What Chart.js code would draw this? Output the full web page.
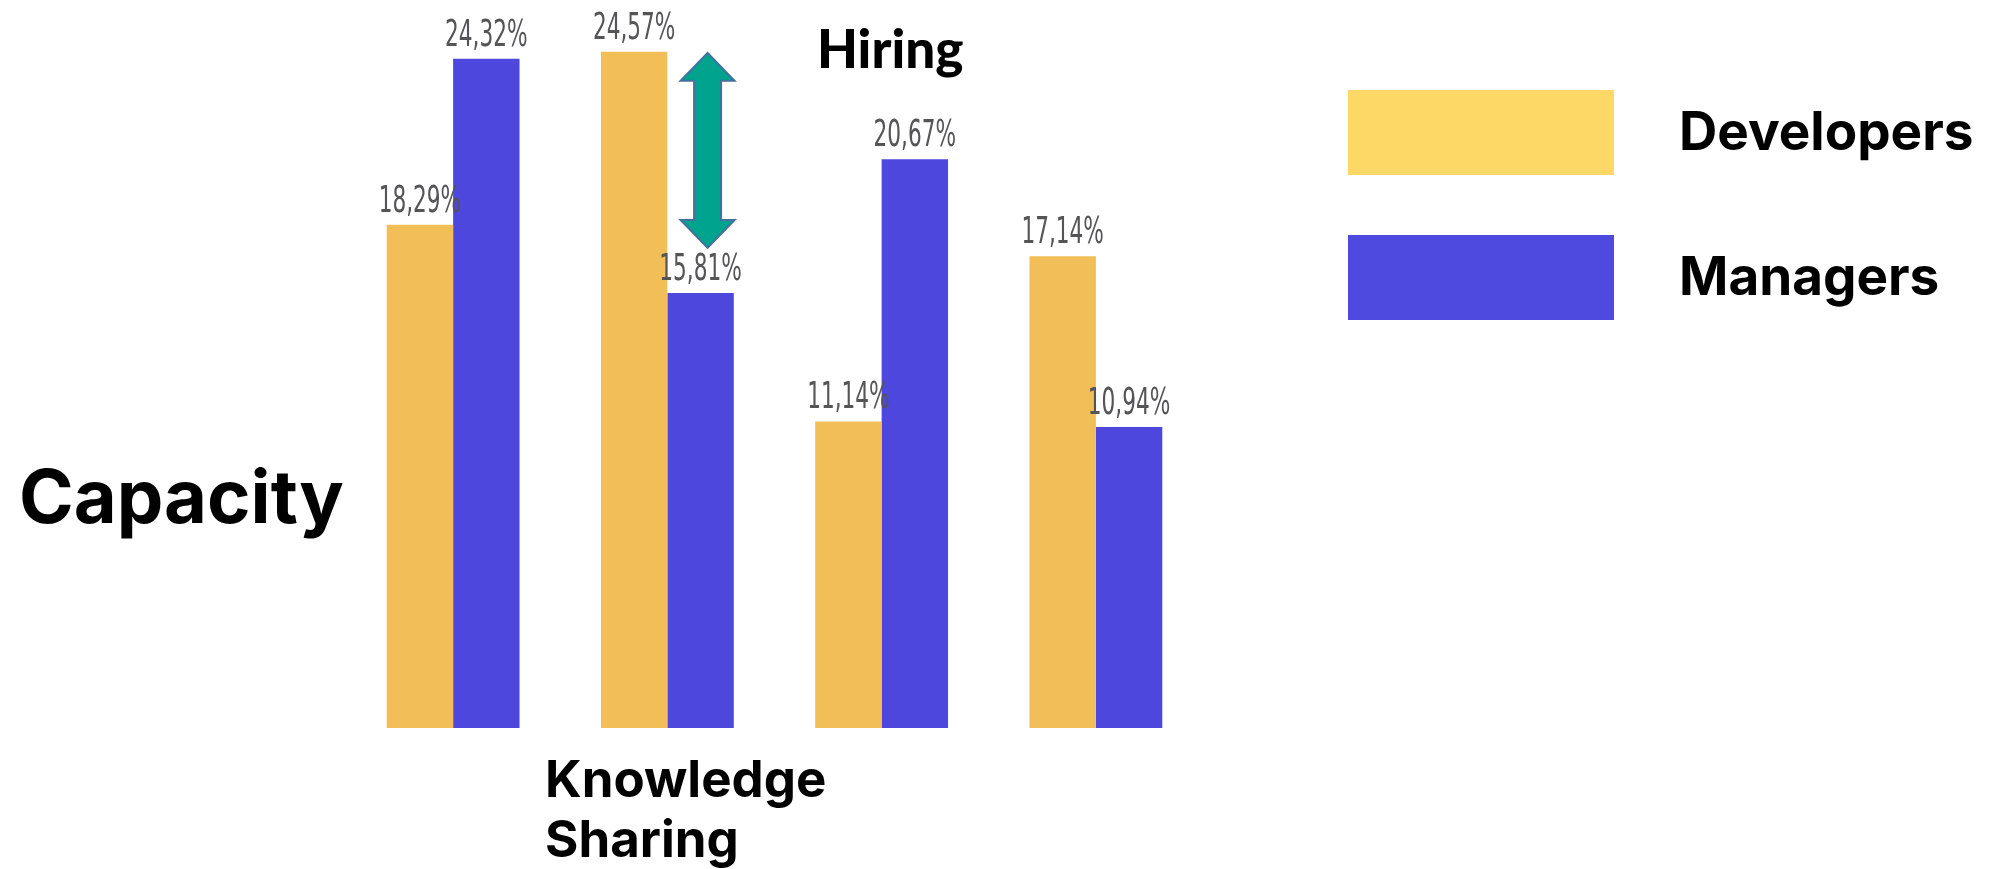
<!DOCTYPE html>
<html>
<head>
<meta charset="utf-8">
<script src="https://cdn.jsdelivr.net/npm/chart.js@4/dist/chart.umd.min.js"></script>
<style>
  body { margin: 0; background: #fff; }
  #wrap { width: 1998px; height: 869px; position: relative; }
</style>
</head>
<body>
<div id="wrap"><canvas id="capacityChart"></canvas></div>
<script>
// Values
const categories = ['Capacity', 'Knowledge Sharing', 'Hiring', ''];
const seriesLabels = ['Developers', 'Managers'];
const developers = [18.29, 24.57, 11.14, 17.14];
const managers = [24.32, 15.81, 20.67, 10.94];
const barColors = ['#F2BE58', '#4D47DD'];
const legendColors = ['#FDD866', '#4F4ADF'];

// percentage labels on top of each bar, narrow grey font like the original
const valueLabels = {
  id: 'valueLabels',
  afterDatasetsDraw(chart) {
    const ctx = chart.ctx;
    ctx.save();
    ctx.fillStyle = '#555557';
    ctx.font = '37px "DejaVu Sans Condensed", "DejaVu Sans"';
    ctx.textAlign = 'center';
    ctx.textBaseline = 'alphabetic';
    chart.data.datasets.forEach((ds, i) => {
      chart.getDatasetMeta(i).data.forEach((bar, j) => {
        const text = ds.data[j].toFixed(2).replace('.', ',') + '%';
        ctx.save();
        ctx.translate(bar.x, bar.y - 13);
        ctx.scale(0.65, 1);
        ctx.fillText(text, 0, 0);
        ctx.restore();
      });
    });
    ctx.restore();
  }
};

// category captions, the double arrow and the legend
const extras = {
  id: 'extras',
  afterDraw(chart) {
    const ctx = chart.ctx;
    const y = chart.scales.y;
    ctx.save();
    ctx.fillStyle = '#000';
    ctx.textAlign = 'left';
    ctx.textBaseline = 'alphabetic';

    ctx.font = '700 74px Inter';
    ctx.fillText(categories[0], 19, 523);

    ctx.font = '700 51px Inter';
    const ks = categories[1].split(' ');
    ctx.fillText(ks[0], 545, 797);
    ctx.fillText(ks[1], 545, 857);

    ctx.font = '900 53px Lato';
    ctx.fillText(categories[2], 817, 68);

    // arrow between developer and manager values of Knowledge Sharing
    const mBar = chart.getDatasetMeta(1).data[1];
    const cx = mBar.x + 7;
    const top = y.getPixelForValue(developers[1]) + 1;
    const bottom = y.getPixelForValue(managers[1]) - 45;
    const hw = 27, hh = 28, sw = 13.5;
    ctx.beginPath();
    ctx.moveTo(cx, top);
    ctx.lineTo(cx + hw, top + hh);
    ctx.lineTo(cx + sw, top + hh);
    ctx.lineTo(cx + sw, bottom - hh);
    ctx.lineTo(cx + hw, bottom - hh);
    ctx.lineTo(cx, bottom);
    ctx.lineTo(cx - hw, bottom - hh);
    ctx.lineTo(cx - sw, bottom - hh);
    ctx.lineTo(cx - sw, top + hh);
    ctx.lineTo(cx - hw, top + hh);
    ctx.closePath();
    ctx.fillStyle = '#00A38D';
    ctx.fill();
    ctx.strokeStyle = '#41719C';
    ctx.lineWidth = 2;
    ctx.stroke();

    // legend
    ctx.font = '700 53px Inter';
    ctx.textBaseline = 'middle';
    seriesLabels.forEach((lab, i) => {
      const by = 90 + i * 145;
      ctx.fillStyle = legendColors[i];
      ctx.fillRect(1348, by, 266, 85);
      ctx.fillStyle = '#000';
      ctx.fillText(lab, 1679, by + 44);
    });
    ctx.restore();
  }
};

new Chart(document.getElementById('capacityChart'), {
  type: 'bar',
  data: {
    labels: categories,
    datasets: [
      { label: seriesLabels[0], data: developers, backgroundColor: barColors[0] },
      { label: seriesLabels[1], data: managers, backgroundColor: barColors[1] }
    ]
  },
  options: {
    responsive: true,
    maintainAspectRatio: false,
    animation: false,
    layout: { padding: { left: 346, right: 795, top: 40, bottom: 141 } },
    datasets: { bar: { barPercentage: 1, categoryPercentage: 0.62 } },
    scales: {
      x: { display: false },
      y: { display: false, min: 0, max: 25 }
    },
    plugins: {
      legend: { display: false },
      tooltip: { enabled: false }
    }
  },
  plugins: [valueLabels, extras]
});
</script>
</body>
</html>
